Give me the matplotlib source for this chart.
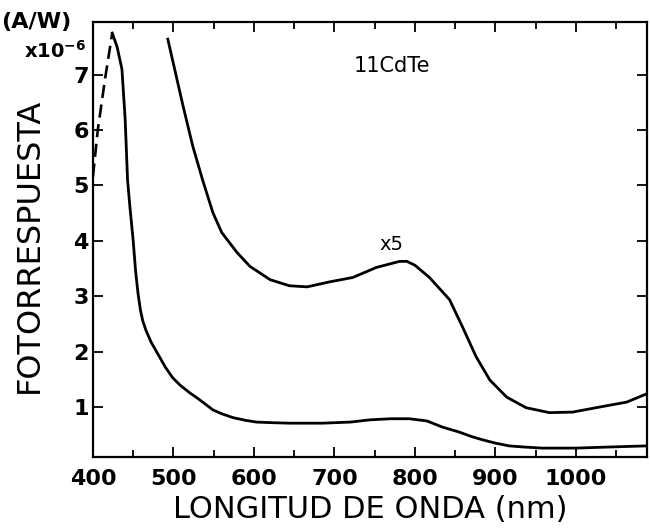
import numpy as np
import matplotlib
matplotlib.use('Agg')
import matplotlib.pyplot as plt
from matplotlib.ticker import MultipleLocator

# photoresponse of 11CdTe
# dashed rise at short wavelength
dash_nm = [400, 406, 415, 424]
dash_y = [5.16, 6.0, 6.92, 7.75]

# lower curve (real scale)
lower_nm = [424, 430, 436, 440, 443, 446, 450, 453, 456, 459, 462, 466, 472, 479,
            490, 499, 508, 520, 529, 540, 549, 560, 574, 590, 603, 620, 644, 685,
            720, 744, 770, 793, 815, 834, 855, 870, 884, 900, 917, 935, 958, 980,
            1000, 1041, 1088]
lower_y = [7.75, 7.5, 7.1, 6.2, 5.1, 4.6, 4.0, 3.45, 3.05, 2.75, 2.55, 2.38, 2.18,
           2.0, 1.72, 1.53, 1.40, 1.26, 1.17, 1.05, 0.95, 0.88, 0.81, 0.76, 0.73,
           0.72, 0.71, 0.71, 0.73, 0.77, 0.79, 0.79, 0.75, 0.64, 0.55, 0.47, 0.41,
           0.35, 0.30, 0.28, 0.26, 0.26, 0.26, 0.28, 0.30]

# upper curve (x5)
upper_nm = [493, 512, 524, 536, 549, 560, 579, 595, 620, 644, 666, 694, 723, 752,
            781, 790, 800, 818, 843, 859, 876, 893, 914, 938, 967, 996, 1029,
            1063, 1088]
upper_y = [7.64, 6.43, 5.71, 5.11, 4.51, 4.15, 3.79, 3.54, 3.30, 3.19, 3.17, 3.26,
           3.34, 3.52, 3.63, 3.63, 3.56, 3.34, 2.94, 2.45, 1.91, 1.49, 1.18, 0.99,
           0.90, 0.91, 1.00, 1.09, 1.24]

xticks = [400, 500, 600, 700, 800, 900, 1000]
yticks = [1, 2, 3, 4, 5, 6, 7]

plt.rcParams['font.family'] = 'DejaVu Sans'

fig = plt.figure(figsize=(6.5, 5.31), dpi=100)
ax = fig.add_axes([0.143, 0.1394, 0.852, 0.8192])

ax.plot(dash_nm, dash_y, '--', color='black', lw=1.9, dashes=(5, 2.5))
ax.plot(lower_nm, lower_y, '-', color='black', lw=2.0)
ax.plot(upper_nm, upper_y, '-', color='black', lw=2.0)

ax.set_xlim(400, 1088)
ax.set_ylim(0.1, 7.95)

ax.set_xticks(xticks)
ax.set_xticklabels([str(v) for v in xticks], fontsize=16, fontweight='bold')
ax.xaxis.set_minor_locator(MultipleLocator(50))
ax.set_yticks(yticks)
ax.set_yticklabels([str(v) for v in yticks], fontsize=16, fontweight='bold')

ax.tick_params(axis='both', which='both', direction='in', top=True, right=True,
               width=1.3, color='black')
ax.tick_params(axis='x', which='major', length=7, pad=9)
ax.tick_params(axis='x', which='minor', length=5)
ax.tick_params(axis='y', which='major', length=7, pad=3)
for s in ax.spines.values():
    s.set_linewidth(1.6)

ax.text(771, 7.15, '11CdTe', fontsize=15, ha='center', va='center')
ax.text(771, 3.93, 'x5', fontsize=14, ha='center', va='center')

fig.text(0.002, 0.958, '(A/W)', fontsize=16, fontweight='bold', ha='left', va='center')
fig.text(0.084, 0.904, r'x10$^{\mathbf{-6}}$', fontsize=14, fontweight='bold',
         ha='center', va='center')
fig.text(0.045, 0.537, 'FOTORRESPUESTA', fontsize=23, rotation=90,
         ha='center', va='center')
fig.text(0.569, 0.04, 'LONGITUD DE ONDA (nm)', fontsize=22, ha='center', va='center')

fig.savefig('out.png', dpi=100)
